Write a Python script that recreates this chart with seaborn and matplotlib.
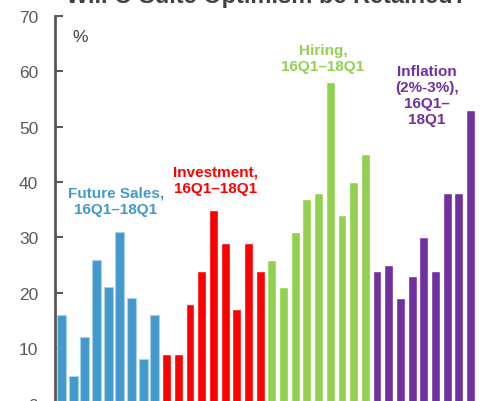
import matplotlib
matplotlib.use("Agg")
import matplotlib.pyplot as plt
import seaborn as sns
import pandas as pd

# Data
future_sales = [16, 5, 12, 26, 21, 31, 19, 8, 16]
investment = [9, 9, 18, 24, 35, 29, 17, 29, 24]
hiring = [26, 21, 31, 37, 38, 58, 34, 40, 45]
inflation = [24, 25, 19, 23, 30, 24, 38, 38, 53]
group_names = ["Future Sales", "Investment", "Hiring", "Inflation"]
group_labels = ["Future Sales,\n16Q1\u201318Q1", "Investment,\n16Q1\u201318Q1",
                "Hiring,\n16Q1\u201318Q1", "Inflation\n(2%-3%),\n16Q1\u2013\n18Q1"]
y_ticks = [0, 10, 20, 30, 40, 50, 60, 70]
title = "Will C-Suite Optimism be Retained?"

colors = {"Future Sales": "#4299CC", "Investment": "#FF0000",
          "Hiring": "#92D050", "Inflation": "#7030A0"}

rows = []
for g, vals in zip(group_names, [future_sales, investment, hiring, inflation]):
    for i, v in enumerate(vals):
        rows.append({"bar": f"{g}{i}", "group": g, "value": v})
df = pd.DataFrame(rows)

sns.set_theme(style="white")
plt.rcParams["font.family"] = ["Liberation Sans", "DejaVu Sans"]

W, H = 482, 402
fig = plt.figure(figsize=(W / 100, H / 100), dpi=100)
px0 = 55
y70 = 17
y0 = 404.6
ax = fig.add_axes([px0 / W, (H - y0) / H, (W - px0) / W, (y0 - y70) / H])

sns.barplot(data=df, x="bar", y="value", hue="group", palette=colors,
            dodge=False, width=0.76, legend=False, ax=ax, saturation=1,
            order=list(df["bar"]))

# light edge on blue bars
for p in ax.patches:
    fc = p.get_facecolor()
    if abs(fc[0] - 0x42 / 255) < 0.02 and abs(fc[2] - 0xCC / 255) < 0.02:
        p.set_edgecolor("#A9CFEA")
        p.set_linewidth(0.8)

ax.set_xlim(-0.55, 35.98)
ax.set_ylim(0, 70)
ax.set_yticks(y_ticks)
ax.set_xticks([])
ax.set_xlabel("")
ax.set_ylabel("")
for s in ["top", "right", "bottom"]:
    ax.spines[s].set_visible(False)
ax.spines["left"].set_color("#595959")
ax.spines["left"].set_linewidth(2)
ax.tick_params(axis="y", left=True, direction="in", length=6, width=1.5,
               color="#595959", labelcolor="#595959", labelsize=12.5, pad=12)

fig.text(80 / W, 1 - 37 / H, "%", fontsize=12.5,
         color="#404040", ha="center", va="center")

label_pos = [(116, 202), (216, 181), (323, 59), (427, 96)]
for (x, y), lab, g in zip(label_pos, group_labels, group_names):
    fig.text(x / W, 1 - y / H, lab, ha="center", va="center", fontsize=11,
             fontweight="bold", color=colors[g], linespacing=1.2)

fig.text(266 / W, 1 - 3.5 / H, title, ha="center", va="baseline", fontsize=17,
         fontweight="bold", color="#404040")

fig.savefig("out.png", dpi=100)
